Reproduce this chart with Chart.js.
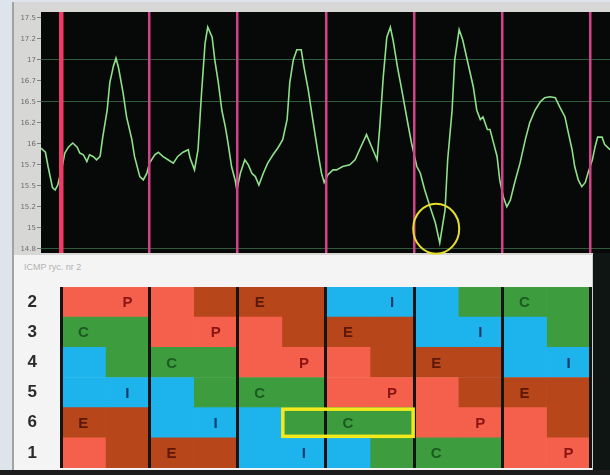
<!DOCTYPE html>
<html>
<head>
<meta charset="utf-8">
<script src="https://cdn.jsdelivr.net/npm/chart.js@4.4.0/dist/chart.umd.min.js"></script>
<style>
  html, body { margin:0; padding:0; }
  body { width:610px; height:475px; position:relative; overflow:hidden; background:#dde4ec; font-family:"Liberation Sans", Arial, sans-serif; }
  #topPanel { position:absolute; left:12px; top:2px; width:598px; height:254px; background:#d7d8d6; border-left:2px solid #a2a2a2; }
  #win { position:absolute; left:12px; top:255px; width:578px; height:215px; background:#f4f4f4; border-left:2px solid #a2a2a2; border-right:2px solid #cfcfcf; }
  #winTitle { position:absolute; left:24px; top:262px; font-size:9px; color:#b2b2b2; }
  #screenR { position:absolute; left:593px; top:253px; width:17px; height:222px; background:#0e1512; }
  #screenB { position:absolute; left:0; top:470px; width:610px; height:5px; background:#1c1c1c; }
  #topWrap { position:absolute; left:0; top:0; width:610px; height:262px; z-index:3; }
  #botWrap { position:absolute; left:0; top:287px; width:610px; height:181px; z-index:2; }
</style>
</head>
<body>
<div id="topPanel"></div>
<div id="win"></div>
<div id="winTitle">ICMP ryc. nr 2</div>
<div id="screenR"></div>
<div id="screenB"></div>
<div id="topWrap"><canvas id="signal"></canvas></div>
<div id="botWrap"><canvas id="grid"></canvas></div>
<script>
// signal trace (time in samples, value)
var signalTime = [-23,-18,-15,-10,-7,-4,1,4,8,13,18,21,25,29,32,36,40,44,47,52,55,59,62,65,70,74,80,83,89,93,97,100,106,110,115,121,127,132,138,144,
  146,151,155,159,163,166,171,174,178,182,186,189,193,197,199,203,208,212,216,220,224,229,234,240,246,251,256,259,263,267,272,275,280,285,291,295,298,
  302,308,312,319,327,333,339,346,352,358,361,365,369,373,376,381,386,392,397,403,407,412,418,424,429,435,438,443,446,451,455,461,467,471,475,478,483,486,489,
  494,497,501,505,509,514,520,526,531,537,543,548,554,560,565,571,574,579,582,586,590,594,597,602,605,608,613,616,622];
var signalValue = [15.95,15.90,15.73,15.48,15.45,15.51,15.73,15.89,15.96,16.01,15.96,15.89,15.87,15.79,15.87,15.85,15.81,15.85,16.08,16.40,16.73,16.92,17.02,16.90,16.61,16.32,16.05,15.85,15.61,15.57,15.65,15.77,15.87,15.90,15.85,15.81,15.77,15.85,15.90,15.93,
  15.83,15.69,15.93,16.61,17.20,17.39,17.27,17.00,16.73,16.40,16.20,16.01,15.73,15.57,15.45,15.65,15.81,15.75,15.65,15.61,15.51,15.65,15.77,15.87,15.96,16.05,16.29,16.73,17.00,17.12,17.12,16.92,16.64,16.29,15.89,15.65,15.54,
  15.63,15.69,15.69,15.73,15.75,15.81,15.95,16.11,15.96,15.81,16.20,16.80,17.27,17.39,17.24,16.92,16.64,16.29,16.01,15.73,15.65,15.45,15.25,15.06,14.82,15.21,15.81,16.40,17.00,17.36,17.24,16.96,16.68,16.40,16.29,16.32,16.17,16.17,16.05,
  15.85,15.57,15.37,15.25,15.33,15.54,15.77,16.05,16.25,16.40,16.50,16.55,16.56,16.55,16.44,16.32,16.17,15.93,15.73,15.57,15.49,15.54,15.65,15.81,15.96,16.08,16.08,15.99,15.93];
var markerTimes = [0, 100, 200, 300, 400, 500, 600];
var yTickValues = [17.5, 17.25, 17, 16.75, 16.5, 16.25, 16, 15.75, 15.5, 15.25, 15, 14.75];
var yTickLabels = ['17.5', '17.2', '17', '16.7', '16.5', '16.2', '16', '15.7', '15.5', '15.2', '15', '14.8'];
var yGridValues = [17, 16.5, 14.75];
var circleAt = [425, 14.99];

// state grid below
var rowLabels = ['2', '3', '4', '5', '6', '1'];
var halfColumnStates = ['PCIIEP', 'PCCIEE', 'PPCIIE', 'EPCCIE', 'EPPCII', 'EEPCCI',
                        'IEPPCI', 'IEEPCC', 'IIEPPC', 'CIEEPC', 'CIIEPP', 'CCIEEP'];
var columnBounds = [0, 100, 200, 300, 400, 500, 600];
var highlightCells = { from: 250, to: 400, row: '6' };

var stateColors = { P: '#f4604b', E: '#b8461b', C: '#3d9c3d', I: '#1db3ed' };
var stateText = { P: '#8c1414', E: '#5b1806', C: '#1c5a22', I: '#0c3c6c' };

var blackArea = {
  id: 'blackArea',
  beforeDraw: function(chart) {
    var a = chart.chartArea, ctx = chart.ctx;
    ctx.save();
    ctx.fillStyle = '#060908';
    ctx.fillRect(a.left, a.top, a.right - a.left, a.bottom - a.top);
    ctx.restore();
  }
};

var ring = {
  id: 'ring',
  afterDraw: function(chart) {
    var ctx = chart.ctx;
    var cx = chart.scales.x.getPixelForValue(circleAt[0]);
    var cy = chart.scales.y.getPixelForValue(circleAt[1]);
    ctx.save();
    ctx.strokeStyle = '#e6df2c';
    ctx.lineWidth = 2;
    ctx.beginPath();
    ctx.ellipse(cx, cy, 23, 25, 0, 0, Math.PI * 2);
    ctx.stroke();
    ctx.restore();
  }
};

new Chart(document.getElementById('signal'), {
  type: 'line',
  data: {
    datasets: [{
      data: signalTime.map(function(t, i) { return { x: t, y: signalValue[i] }; }),
      borderColor: '#8fdf8b',
      borderWidth: 1.6,
      pointRadius: 0,
      tension: 0
    }]
  },
  options: {
    responsive: true,
    maintainAspectRatio: false,
    animation: false,
    layout: { padding: { left: 0, right: 0, top: 12, bottom: 9 } },
    plugins: { legend: { display: false }, tooltip: { enabled: false } },
    scales: {
      x: {
        type: 'linear', min: -23, max: 622,
        afterBuildTicks: function(ax) { ax.ticks = markerTimes.map(function(v) { return { value: v }; }); },
        ticks: { display: false },
        grid: {
          z: 1, drawTicks: false,
          color: function(c) { return c.index === 0 ? '#ee3b66' : '#d2418a'; },
          lineWidth: function(c) { return c.index === 0 ? 4.5 : 2.5; }
        },
        border: { display: false }
      },
      y: {
        min: 14.70, max: 17.57,
        afterBuildTicks: function(ax) { ax.ticks = yTickValues.map(function(v) { return { value: v }; }); },
        afterFit: function(ax) { ax.width = 41; },
        ticks: {
          autoSkip: false,
          callback: function(v, i) { return yTickLabels[i]; },
          color: '#6c6c6c', font: { size: 7, family: 'DejaVu Sans' }, padding: 1
        },
        grid: {
          color: function(c) { return c.tick && yGridValues.indexOf(c.tick.value) >= 0 ? '#2e5c3c' : 'rgba(0,0,0,0)'; },
          tickColor: '#808080', tickLength: 4, lineWidth: 1
        },
        border: { display: false }
      }
    }
  },
  plugins: [blackArea, ring]
});

var letters = {
  id: 'letters',
  afterDatasetsDraw: function(chart) {
    var ctx = chart.ctx, xs = chart.scales.x, ys = chart.scales.y;
    ctx.save();
    ctx.font = 'bold 15px "Liberation Sans", Arial, sans-serif';
    ctx.textAlign = 'center';
    ctx.textBaseline = 'middle';
    for (var c = 0; c < columnBounds.length - 1; c++) {
      var a = halfColumnStates[2 * c], b = halfColumnStates[2 * c + 1];
      for (var r = 0; r < rowLabels.length; r++) {
        if (a[r] !== b[r]) continue;
        var k = a[r];
        var mid = (k === 'E' || k === 'C') ? columnBounds[c] + 25 : columnBounds[c] + 75;
        ctx.fillStyle = stateText[k];
        ctx.fillText(k, xs.getPixelForValue(mid), ys.getPixelForValue(r) + 1);
      }
    }
    ctx.restore();
  },
  afterDraw: function(chart) {
    var ctx = chart.ctx, xs = chart.scales.x, ys = chart.scales.y;
    var r = rowLabels.indexOf(highlightCells.row);
    var band = ys.height / rowLabels.length;
    var x0 = xs.getPixelForValue(highlightCells.from), x1 = xs.getPixelForValue(highlightCells.to);
    var yc = ys.getPixelForValue(r);
    ctx.save();
    ctx.strokeStyle = '#f2ea1c';
    ctx.lineWidth = 3.5;
    ctx.strokeRect(x0 + 1, yc - band / 2 + 1.5, x1 - x0 - 2, band - 3);
    ctx.restore();
  }
};

new Chart(document.getElementById('grid'), {
  type: 'bar',
  data: {
    labels: rowLabels,
    datasets: halfColumnStates.map(function(s, h) {
      return {
        data: rowLabels.map(function() { return [h * 50, (h + 1) * 50]; }),
        backgroundColor: s.split('').map(function(k) { return stateColors[k]; }),
        borderWidth: 0
      };
    })
  },
  options: {
    indexAxis: 'y',
    responsive: true,
    maintainAspectRatio: false,
    animation: false,
    layout: { padding: 0 },
    datasets: { bar: { grouped: false, barPercentage: 1, categoryPercentage: 1 } },
    plugins: { legend: { display: false }, tooltip: { enabled: false } },
    scales: {
      x: {
        type: 'linear', min: -23, max: 622,
        afterBuildTicks: function(ax) { ax.ticks = columnBounds.map(function(v) { return { value: v }; }); },
        ticks: { display: false },
        grid: { z: 1, drawTicks: false, color: '#141414', lineWidth: 3 },
        border: { display: false }
      },
      y: {
        afterFit: function(ax) { ax.width = 41; ax.paddingTop = 0; ax.paddingBottom = 0; },
        ticks: { color: '#2b2b2b', font: { size: 17, weight: 'bold', family: 'Liberation Sans' }, padding: 4 },
        grid: { display: false, drawTicks: false },
        border: { display: false }
      }
    }
  },
  plugins: [letters]
});
</script>
</body>
</html>
